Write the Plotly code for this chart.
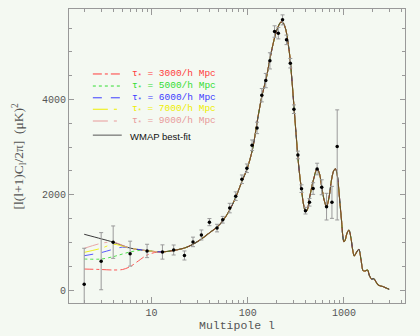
import plotly.graph_objects as go

# ---------------- data ----------------
# WMAP binned band powers
ell_data = [2, 3, 4, 6, 9, 13, 17, 22, 27, 33, 40, 48, 55, 65, 75, 87, 98, 111, 125,
            140, 154, 170, 190, 208, 230, 253, 277, 302, 332, 362, 398, 438, 478,
            526, 587, 659, 750, 850]
D_data = [120, 605, 1005, 763, 820, 798, 840, 725, 1010, 1155, 1425, 1300, 1475, 1720,
          1970, 2325, 2556, 3040, 3403, 4090, 4397, 4811, 5427, 5393, 5672, 5252, 4762,
          3796, 2836, 2128, 1666, 1842, 2130, 2540, 2157, 1750, 1840, 3011]
err_plus = [756, 600, 340, 262, 140, 150, 105, 95, 100, 105, 75, 80, 70, 100, 90, 90,
            90, 110, 120, 140, 150, 170, 120, 120, 105, 100, 100, 90, 80, 80, 70, 80,
            122, 122, 157, 280, 336, 771]
err_minus = [756, 600, 340, 262, 140, 150, 105, 95, 100, 105, 75, 80, 70, 100, 90, 90,
             90, 110, 120, 140, 150, 170, 120, 120, 105, 100, 100, 90, 80, 80, 70, 80,
             122, 122, 157, 280, 336, 1540]

# WMAP best-fit model
ell_fit = [2, 3, 4, 6, 9, 13, 17, 22, 27, 33, 40, 48, 55, 65, 75, 87, 98, 112, 128,
           140, 157, 170, 184, 200, 221, 235, 249, 262, 274, 290, 304, 320, 334, 348,
           362, 380, 398, 415, 441, 480, 526, 560, 587, 620, 659, 700, 742, 780, 815,
           850, 880, 910, 944, 970, 998, 1030, 1070, 1126, 1180, 1230, 1277, 1340,
           1428, 1500, 1580, 1660, 1757, 1840, 1935, 2047, 2150, 2270, 2400, 2563,
           2750, 2950]
D_fit = [1170, 1075, 1005, 880, 825, 800, 830, 880, 960, 1070, 1200, 1320, 1450, 1680,
         1945, 2280, 2530, 2950, 3640, 4060, 4480, 4850, 5180, 5450, 5624, 5600, 5462,
         5200, 4900, 4330, 3781, 3200, 2731, 2380, 2101, 1800, 1650, 1680, 1960, 2300,
         2556, 2420, 2170, 1900, 1745, 1950, 2311, 2500, 2545, 2420, 2150, 1800, 1450,
         1150, 1015, 1050, 1180, 1260, 1100, 850, 714, 780, 855, 650, 406, 400, 420,
         300, 231, 237, 170, 105, 85, 70, 40, 15]

# reionisation models: low-l parts (merge into best fit afterwards)
tau_labels = ["3000", "5000", "6000", "7000", "9000"]
tau3000_ell = [2, 3, 4, 5, 6, 7.3, 9, 11.3]
tau3000_D = [440, 430, 420, 430, 490, 610, 735, 795]
tau5000_ell = [2, 3, 4, 6, 7.5]
tau5000_D = [650, 650, 700, 800, 830]
tau6000_ell = [2, 3, 4, 5]
tau6000_D = [720, 785, 855, 900]
tau7000_ell = [2, 3, 4]
tau7000_D = [790, 875, 960]
tau9000_ell = [2, 3]
tau9000_D = [875, 980]

tau_ell = [tau3000_ell, tau5000_ell, tau6000_ell, tau7000_ell, tau9000_ell]
tau_D = [tau3000_D, tau5000_D, tau6000_D, tau7000_D, tau9000_D]
tau_colors = ["#ff3c3c", "#33dd33", "#3c3cff", "#eeee00", "#e89a9a"]
tau_dash = ["dashdot", "dot", "dash", "longdashdot", "longdashdot"]

# ---------------- figure ----------------
fig = go.Figure()

fig.add_trace(go.Scatter(x=ell_fit, y=D_fit, mode="lines",
                         line=dict(color="#3a3a3a", width=1, shape="spline", smoothing=0.8),
                         showlegend=False, hoverinfo="skip"))

for le, dd, col, dsh in zip(tau_ell, tau_D, tau_colors, tau_dash):
    xs = list(le) + [l for l in ell_fit if l > max(le)]
    ys = list(dd) + [d for l, d in zip(ell_fit, D_fit) if l > max(le)]
    fig.add_trace(go.Scatter(x=xs, y=ys, mode="lines",
                             line=dict(color=col, width=1, dash=dsh, shape="spline", smoothing=0.8),
                             opacity=0.85, showlegend=False, hoverinfo="skip"))

# where all models coincide the overlapping curves blend into a brownish line
ell_overlap = [l for l in ell_fit if l >= 13]
D_overlap = [d for l, d in zip(ell_fit, D_fit) if l >= 13]
fig.add_trace(go.Scatter(x=ell_overlap, y=D_overlap, mode="lines",
                         line=dict(color="#6f5226", width=1.1, shape="spline", smoothing=0.8),
                         showlegend=False, hoverinfo="skip"))

fig.add_trace(go.Scatter(x=ell_data, y=D_data, mode="markers",
                         marker=dict(color="black", size=3.5, symbol="circle"),
                         error_y=dict(type="data", symmetric=False, array=err_plus,
                                      arrayminus=err_minus, color="#9a9a9a",
                                      thickness=1, width=2),
                         showlegend=False, hoverinfo="skip"))

# manual legend (keys + labels)
row_y = [0.779, 0.738, 0.698, 0.659, 0.619]
for lab, col, dsh, yy in zip(tau_labels, tau_colors, tau_dash, row_y):
    fig.add_shape(type="line", xref="paper", yref="paper", x0=0.071, x1=0.157,
                  y0=yy, y1=yy, line=dict(color=col, width=1, dash=dsh))
    fig.add_annotation(xref="paper", yref="paper", x=0.183, y=yy, xanchor="left",
                       yanchor="middle", showarrow=False,
                       text="τ<sub>*</sub> = " + lab + "/h Mpc",
                       font=dict(family="Liberation Mono", size=9.5, color=col))
fig.add_shape(type="line", xref="paper", yref="paper", x0=0.071, x1=0.157,
              y0=0.571, y1=0.571, line=dict(color="#555555", width=1))
fig.add_annotation(xref="paper", yref="paper", x=0.176, y=0.568, xanchor="left",
                   yanchor="middle", showarrow=False, text="WMAP best-fit",
                   font=dict(family="Liberation Sans", size=9.5, color="#111111"))

# axis titles
fig.add_annotation(xref="paper", yref="paper", x=0.5, y=-0.075, xanchor="center",
                   yanchor="middle", showarrow=False, text="Multipole l",
                   font=dict(family="Liberation Mono", size=11.5, color="#555555"))
fig.add_annotation(xref="paper", yref="paper", x=-0.15, y=0.5, xanchor="center",
                   yanchor="middle", showarrow=False, textangle=-90,
                   text="[l(l+1)C<sub>l</sub>/2π]  (μK)<sup>2</sup>",
                   font=dict(family="Liberation Serif", size=13.5, color="#555555"))

axis_common = dict(showline=True, linecolor="#999999", linewidth=1, mirror="ticks",
                   ticks="inside", tickcolor="#999999", showgrid=False, zeroline=False,
                   tickfont=dict(family="Liberation Mono", size=10, color="#555555"))

fig.update_xaxes(type="log", range=[0.143, 3.634], tickvals=[10, 100, 1000],
                 ticktext=["10", "100", "1000"], ticklen=6,
                 minor=dict(ticks="inside", ticklen=3, tickcolor="#999999", dtick="D1"),
                 **axis_common)
fig.update_yaxes(range=[-273, 5900], tickvals=[0, 2000, 4000], ticklen=5,
                 minor=dict(ticks="inside", ticklen=3, tickcolor="#999999", dtick=500),
                 **axis_common)

fig.update_layout(width=420, height=336, margin=dict(l=69, r=15, t=9, b=33),
                  paper_bgcolor="#f4f9f2", plot_bgcolor="#f4f9f2", showlegend=False)

fig.write_html("out.html")
